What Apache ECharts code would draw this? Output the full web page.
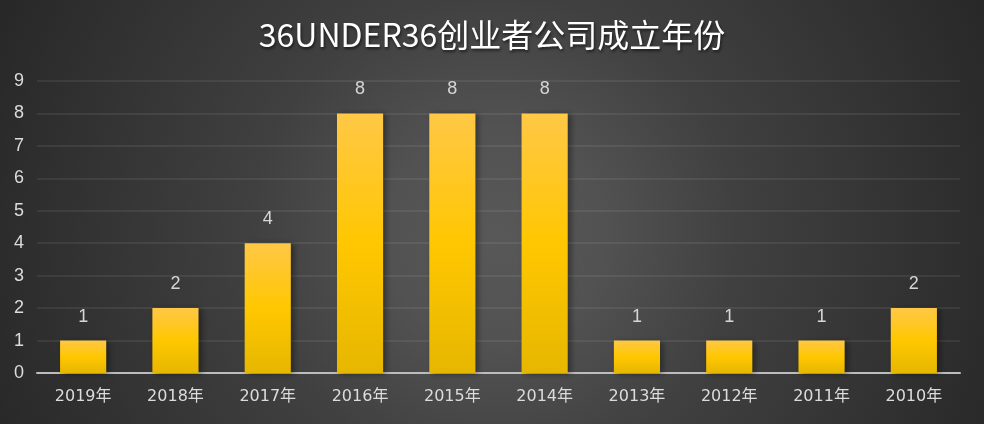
<!DOCTYPE html>
<html>
<head>
<meta charset="utf-8">
<script src="https://cdn.jsdelivr.net/npm/echarts@6/dist/echarts.min.js"></script>
<style>
  html, body { margin: 0; padding: 0; }
  #main { width: 984px; height: 424px; }
</style>
</head>
<body>
<div id="main"></div>
<script>
var years = ['2019年', '2018年', '2017年', '2016年', '2015年', '2014年', '2013年', '2012年', '2011年', '2010年'];
var counts = [1, 2, 4, 8, 8, 8, 1, 1, 1, 2];
var titleText = '36UNDER36创业者公司成立年份';

var myChart = echarts.init(document.getElementById('main'));
var option;

option = {
    backgroundColor: {
        type: 'radial',
        x: 495, y: 235, r: 540,
        global: true,
        colorStops: [
            { offset: 0, color: '#585858' },
            { offset: 0.2, color: '#525252' },
            { offset: 0.45, color: '#404040' },
            { offset: 1, color: '#282828' }
        ]
    },
    title: {
        text: titleText,
        left: 'center',
        top: 14,
        textStyle: {
            color: '#ffffff',
            fontSize: 32,
            fontWeight: 'normal',
            fontFamily: 'Noto Sans CJK SC',
            textShadowColor: 'rgba(0,0,0,0.6)',
            textShadowBlur: 3,
            textShadowOffsetX: 1,
            textShadowOffsetY: 2
        }
    },
    grid: {
        left: 37,
        right: 24,
        top: 81,
        bottom: 51,
        containLabel: false
    },
    xAxis: {
        type: 'category',
        data: years,
        axisLine: { lineStyle: { color: '#bdbdbd', width: 2 } },
        axisTick: { show: false },
        axisLabel: {
            color: '#dcdcdc',
            fontSize: 16,
            margin: 16,
            fontFamily: 'DejaVu Sans, Noto Sans CJK SC'
        }
    },
    yAxis: {
        type: 'value',
        min: 0,
        max: 9,
        interval: 1,
        axisLine: { show: false },
        axisTick: { show: false },
        axisLabel: {
            color: '#dcdcdc',
            fontSize: 18,
            margin: 13,
            fontFamily: 'Liberation Sans'
        },
        splitLine: { lineStyle: { color: 'rgba(255,255,255,0.07)', width: 2 } }
    },
    series: [
        {
            type: 'bar',
            data: counts,
            barWidth: '50%',
            label: {
                show: true,
                position: 'top',
                distance: 15,
                color: '#d6d6d6',
                fontSize: 18,
                fontFamily: 'Liberation Sans'
            },
            itemStyle: {
                color: new echarts.graphic.LinearGradient(0, 0, 0, 1, [
                    { offset: 0, color: '#ffc846' },
                    { offset: 0.5, color: '#ffc700' },
                    { offset: 1, color: '#e6b700' }
                ]),
                shadowColor: 'rgba(0,0,0,0.4)',
                shadowBlur: 6,
                shadowOffsetX: 3,
                shadowOffsetY: 1
            }
        }
    ]
};

option && myChart.setOption(option);
</script>
</body>
</html>
